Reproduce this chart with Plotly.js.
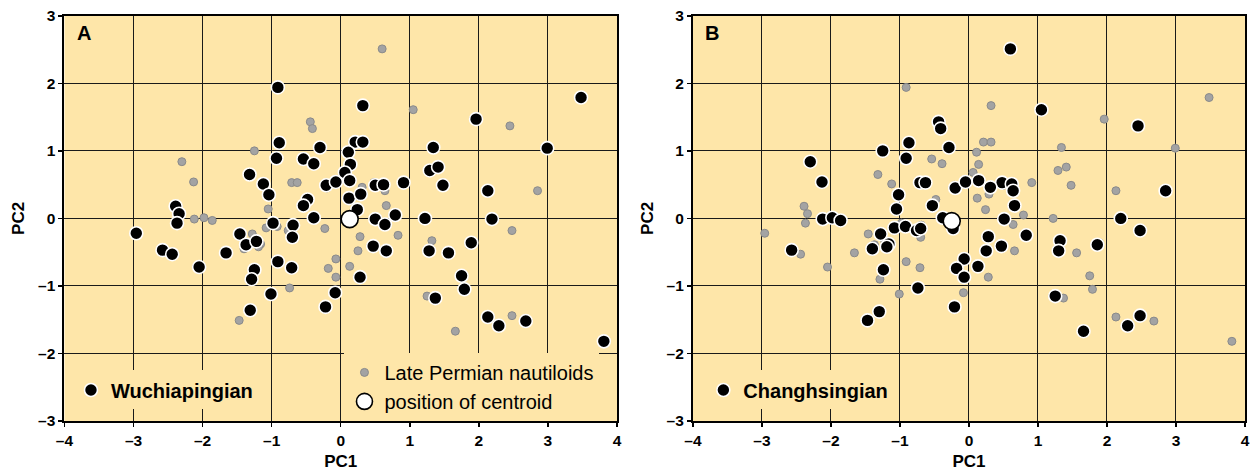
<!DOCTYPE html>
<html>
<head>
<meta charset="utf-8">
<script src="https://cdn.plot.ly/plotly-3.0.1.min.js"></script>
<style>html,body{margin:0;padding:0;background:#fff;}#chart{width:1254px;height:473px;}</style>
</head>
<body>
<div id="chart"></div>
<script>
// Wuchiapingian taxa (panel A, black)
const wuchPC1 = [-0.91,-0.89,-0.30,-0.93,-0.54,-0.39,-1.32,-1.12,-0.21,-0.07,-1.04,-0.48,-0.54,-2.39,-2.34,-0.39,-0.98,0.21,0.32,0.11,0.14,0.06,0.13,0.50,0.62,0.12,0.29,0.24,0.50,0.64,-0.69,-0.70,-1.46,-1.37,-1.22,0.47,0.66,-1.66,-2.05,-1.25,-1.29,-0.91,-0.71,0.28,-1.01,-0.08,-0.22,-1.31,-2.96,-2.58,-2.44,-2.37,0.32,1.96,3.48,1.34,2.99,1.29,1.41,0.91,1.48,2.13,0.79,1.22,2.19,1.28,1.56,1.89,1.75,1.79,1.37,2.13,2.29,2.68,3.81];
const wuchPC2 = [1.94,1.12,1.05,0.89,0.88,0.81,0.65,0.51,0.49,0.54,0.35,0.28,0.19,0.18,0.07,0.01,-0.07,1.13,1.13,0.98,0.80,0.68,0.56,0.49,0.50,0.30,0.36,0.13,-0.01,-0.09,-0.10,-0.28,-0.23,-0.39,-0.34,-0.41,-0.48,-0.51,-0.72,-0.76,-0.90,-0.64,-0.73,-0.87,-1.12,-1.10,-1.31,-1.36,-0.22,-0.47,-0.53,-0.07,1.67,1.47,1.79,1.05,1.04,0.71,0.76,0.53,0.49,0.41,0.05,0.00,-0.01,-0.48,-0.51,-0.36,-0.85,-1.05,-1.18,-1.46,-1.59,-1.52,-1.82];
// Changhsingian taxa (panel B, black)
const changPC1 = [0.60,-0.44,-0.41,-0.87,-0.29,-1.25,-0.91,-2.30,-2.13,-0.71,-0.63,-0.20,-0.05,-1.02,-0.53,-1.05,-2.12,-1.98,-1.86,1.05,0.14,0.48,0.62,0.31,0.64,0.66,-0.38,-0.23,0.51,0.83,0.28,0.47,0.25,-1.08,-0.92,-0.76,-0.70,-1.28,-1.16,-1.19,-1.40,-0.07,0.13,-0.18,-0.07,-1.24,-0.74,-0.21,-1.30,-1.47,-2.57,2.45,2.85,2.20,2.48,1.32,1.30,1.86,1.25,2.30,2.48,1.66];
const changPC2 = [2.51,1.43,1.33,1.12,1.05,1.00,0.89,0.84,0.54,0.53,0.53,0.45,0.54,0.35,0.19,0.14,-0.01,0.01,-0.03,1.61,0.56,0.53,0.51,0.46,0.41,0.19,0.01,-0.15,-0.01,-0.25,-0.27,-0.41,-0.48,-0.14,-0.12,-0.18,-0.15,-0.23,-0.38,-0.42,-0.45,-0.60,-0.71,-0.74,-0.87,-0.76,-1.03,-1.31,-1.38,-1.51,-0.47,1.37,0.41,0.00,-0.18,-0.33,-0.48,-0.39,-1.15,-1.59,-1.44,-1.67];
// Centroids
const centroidA_PC1 = [0.13];
const centroidA_PC2 = [-0.01];
const centroidB_PC1 = [-0.25];
const centroidB_PC2 = [-0.04];
// All Late Permian nautiloids (grey background points)
const allPC1 = wuchPC1.concat(changPC1);
const allPC2 = wuchPC2.concat(changPC2);
const tickVals = [-4,-3,-2,-1,0,1,2,3,4];
const yTickVals = [-3,-2,-1,0,1,2,3];

const BG = '#FEE6A9';
const FONT = 'Liberation Sans, Arial, sans-serif';

const greyMarker = {size: 8, color: '#a3a3a3', line: {color: '#8a8a8a', width: 1}};
const blackMarker = {size: 13, color: '#000000', line: {color: '#ffffff', width: 1.6}};
const centroidMarker = {size: 17, color: '#ffffff', line: {color: '#000000', width: 1.6}};

const traces = [
  {x: allPC1, y: allPC2, xaxis: 'x', yaxis: 'y', type: 'scatter', mode: 'markers', name: 'Late Permian nautiloids', marker: greyMarker, legend: 'legend2', showlegend: true},
  {x: wuchPC1, y: wuchPC2, xaxis: 'x', yaxis: 'y', type: 'scatter', mode: 'markers', name: '<b>Wuchiapingian</b>', marker: blackMarker, legend: 'legend', showlegend: true},
  {x: centroidA_PC1, y: centroidA_PC2, xaxis: 'x', yaxis: 'y', type: 'scatter', mode: 'markers', name: 'position of centroid', marker: centroidMarker, legend: 'legend2', showlegend: true},
  {x: allPC1, y: allPC2, xaxis: 'x2', yaxis: 'y2', type: 'scatter', mode: 'markers', name: 'Late Permian nautiloids', marker: greyMarker, showlegend: false},
  {x: changPC1, y: changPC2, xaxis: 'x2', yaxis: 'y2', type: 'scatter', mode: 'markers', name: '<b>Changhsingian</b>', marker: blackMarker, legend: 'legend3', showlegend: true},
  {x: centroidB_PC1, y: centroidB_PC2, xaxis: 'x2', yaxis: 'y2', type: 'scatter', mode: 'markers', name: 'position of centroid', marker: centroidMarker, showlegend: false}
];

function xax(domain, anchor) {
  return {
    domain: domain, anchor: anchor, range: [-4, 4], tickvals: tickVals, ticktext: tickVals.map(v => v < 0 ? '\u2013' + Math.abs(v) : String(v)),
    showgrid: true, gridcolor: '#1a1a1a', gridwidth: 1, zeroline: false,
    showline: true, linecolor: '#000', linewidth: 2, mirror: true,
    ticks: 'outside', ticklen: 4, tickwidth: 1.5, tickcolor: '#000',
    tickfont: {family: FONT, size: 15.5, color: '#000', weight: 'bold'},
    title: {text: 'PC1', font: {family: FONT, size: 17, color: '#000', weight: 'bold'}, standoff: 7},
    automargin: false
  };
}
function yax(anchor) {
  return {
    domain: [0.1099, 0.9666], anchor: anchor, range: [-3, 3], tickvals: yTickVals, ticktext: yTickVals.map(v => v < 0 ? '\u2013' + Math.abs(v) : String(v)),
    showgrid: true, gridcolor: '#1a1a1a', gridwidth: 1, zeroline: false,
    showline: true, linecolor: '#000', linewidth: 2, mirror: true,
    ticks: 'outside', ticklen: 4, tickwidth: 1.5, tickcolor: '#000',
    tickfont: {family: FONT, size: 15.5, color: '#000', weight: 'bold'},
    title: {text: 'PC2', font: {family: FONT, size: 17, color: '#000', weight: 'bold'}, standoff: 9},
    automargin: false
  };
}

const legendBase = {
  bgcolor: BG, borderwidth: 0, xanchor: 'left', yanchor: 'middle',
  font: {family: FONT, size: 20, color: '#000'}, itemclick: false, itemdoubleclick: false,
  tracegroupgap: 0
};

const layout = {
  width: 1254, height: 473,
  margin: {l: 0, r: 0, t: 0, b: 0, pad: 0},
  paper_bgcolor: '#ffffff', plot_bgcolor: BG,
  showlegend: true,
  xaxis: xax([0.0514, 0.4920], 'y'),
  yaxis: yax('x'),
  xaxis2: xax([0.5526, 0.9928], 'y2'),
  yaxis2: yax('x2'),
  legend: Object.assign({}, legendBase, {x: 0.0566, y: 0.1755}),
  legend2: Object.assign({}, legendBase, {x: 0.2747, y: 0.182, traceorder: 'normal'}),
  legend3: Object.assign({}, legendBase, {x: 0.5609, y: 0.1755}),
  annotations: [
    {text: '<b>A</b>', xref: 'paper', yref: 'paper', x: 84/1254, y: 1 - 33/473, xanchor: 'center', yanchor: 'middle', showarrow: false, font: {family: FONT, size: 20, color: '#000'}},
    {text: '<b>B</b>', xref: 'paper', yref: 'paper', x: 712/1254, y: 1 - 33/473, xanchor: 'center', yanchor: 'middle', showarrow: false, font: {family: FONT, size: 20, color: '#000'}}
  ]
};

Plotly.newPlot('chart', traces, layout, {displayModeBar: false, staticPlot: true});
</script>
</body>
</html>
